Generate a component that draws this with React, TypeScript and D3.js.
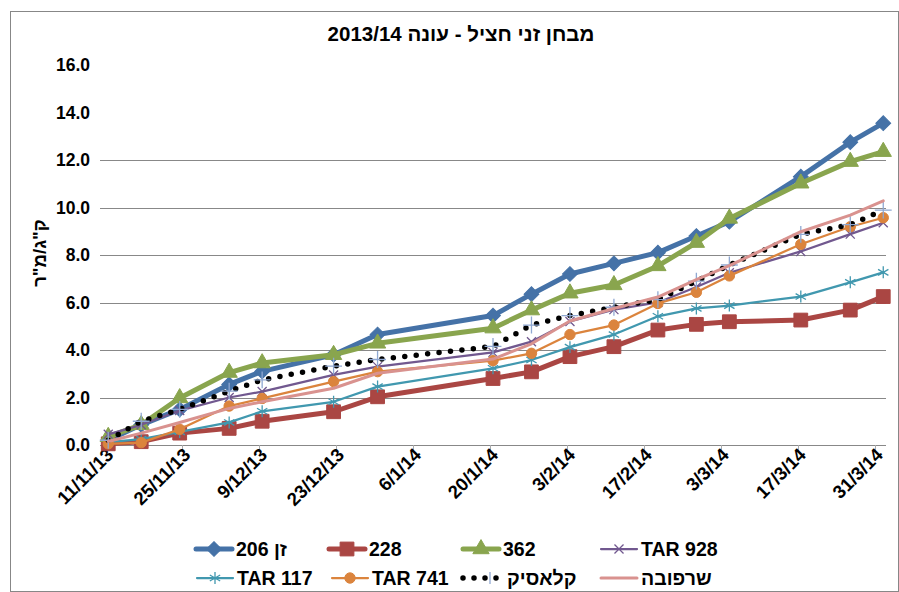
import React from 'react'
import * as d3 from 'd3'

// sampling dates (d/m/yyyy)
const dates = ['2013-11-11', '2013-11-17', '2013-11-24', '2013-12-03', '2013-12-09', '2013-12-22', '2013-12-30',
  '2014-01-20', '2014-01-27', '2014-02-03', '2014-02-11', '2014-02-19', '2014-02-26', '2014-03-04',
  '2014-03-17', '2014-03-26', '2014-04-01']

const zan206 = [0.2, 0.85, 1.5, 2.55, 3.1, 3.8, 4.65, 5.45, 6.35, 7.2, 7.65, 8.1, 8.8, 9.4, 11.3, 12.75, 13.55]
const s228 = [0.05, 0.14, 0.5, 0.7, 1.0, 1.4, 2.03, 2.8, 3.08, 3.72, 4.14, 4.84, 5.08, 5.19, 5.26, 5.68, 6.25]
const s362 = [0.35, 0.85, 1.98, 3.05, 3.45, 3.8, 4.28, 4.92, 5.68, 6.39, 6.74, 7.54, 8.52, 9.54, 11.02, 11.93, 12.35]
const tar928 = [0.45, 0.85, 1.45, 2.0, 2.25, 2.95, 3.3, 3.9, 4.35, 5.2, 5.7, 6.0, 6.65, 7.25, 8.15, 8.88, 9.36]
const tar117 = [0.12, 0.25, 0.55, 0.95, 1.42, 1.82, 2.46, 3.23, 3.58, 4.12, 4.65, 5.42, 5.75, 5.87, 6.25, 6.85, 7.27]
const tar741 = [0.05, 0.1, 0.66, 1.64, 1.96, 2.67, 3.09, 3.55, 3.86, 4.65, 5.05, 5.96, 6.43, 7.12, 8.45, 9.19, 9.57]
const klasik = [0.2, 1.0, 1.5, 2.27, 2.74, 3.32, 3.6, 4.15, 5.05, 5.45, 5.8, 6.12, 6.9, 7.58, 8.87, 9.28, 9.89]
const sharpova = [0.15, 0.5, 0.95, 1.54, 1.82, 2.39, 3.02, 3.62, 4.26, 5.22, 5.75, 6.23, 6.96, 7.55, 8.98, 9.68, 10.28]

const xTickLabels = ['11/11/13', '25/11/13', '9/12/13', '23/12/13', '6/1/14', '20/1/14', '3/2/14', '17/2/14', '3/3/14', '17/3/14', '31/3/14']
const yTicks = [0, 2, 4, 6, 8, 10, 12, 14, 16]
const gridTicks = [2, 4, 6, 8, 10, 12]

const title = 'מבחן זני חציל - עונה 2013/14'
const yTitle = 'ק"ג/מ"ר'

const FONT = '"Liberation Sans", Arial, sans-serif'

type Marker = 'diamond' | 'square' | 'triangle' | 'times' | 'asterisk' | 'circle' | 'plus' | 'none'

interface Series {
  name: string
  values: number[]
  color: string
  width: number
  marker: Marker
  markerColor?: string
  dotted?: boolean
}

const series: Series[] = [
  { name: '206 זן', values: zan206, color: '#4572A7', width: 5, marker: 'diamond' },
  { name: '228', values: s228, color: '#AA4643', width: 5, marker: 'square' },
  { name: '362', values: s362, color: '#89A54E', width: 5, marker: 'triangle' },
  { name: 'TAR  928', values: tar928, color: '#71588F', width: 2.25, marker: 'times' },
  { name: 'TAR 117', values: tar117, color: '#4198AF', width: 2.25, marker: 'asterisk' },
  { name: 'TAR 741', values: tar741, color: '#DB843D', width: 2.25, marker: 'circle' },
  { name: 'קלאסיק', values: klasik, color: '#000000', width: 5.5, marker: 'plus', markerColor: '#8FA8D2', dotted: true },
  { name: 'שרפובה', values: sharpova, color: '#D9928F', width: 3, marker: 'none' }
]

const legendPos = [
  [196, 549], [329, 549], [463, 549], [601, 549],
  [197, 578], [332, 578], [463, 578], [601, 578]
]

const parse = d3.timeParse('%Y-%m-%d')
const parseTick = d3.timeParse('%d/%m/%y')

const x = d3.scaleTime()
  .domain([new Date(2013, 10, 10), new Date(2014, 3, 2)])
  .range([100, 886])
const y = d3.scaleLinear().domain([0, 16]).range([445, 65])

const pointDate = (s: string) => d3.timeHour.offset(parse(s) as Date, 12)

const symbolPath = (m: Marker): string | null => {
  switch (m) {
    case 'diamond': return d3.symbol(d3.symbolSquare, 110)()
    case 'square': return d3.symbol(d3.symbolSquare, 190)()
    case 'triangle': return d3.symbol(d3.symbolTriangle, 115)()
    case 'times': return d3.symbol(d3.symbolTimes, 55)()
    case 'asterisk': return d3.symbol(d3.symbolAsterisk, 100)()
    case 'circle': return d3.symbol(d3.symbolCircle, 85)()
    case 'plus': return d3.symbol(d3.symbolPlus, 95)()
    default: return null
  }
}

const isStroke = (m: Marker) => m === 'times' || m === 'asterisk' || m === 'plus'

const MarkerShape = ({ s, cx, cy }: { s: Series, cx: number, cy: number }) => {
  const d = symbolPath(s.marker)
  if (!d) return null
  const c = s.markerColor ?? s.color
  const rot = s.marker === 'diamond' ? ' rotate(45)' : ''
  return isStroke(s.marker)
    ? <path d={d} transform={`translate(${cx},${cy})${rot}`} fill="none" stroke={c} strokeWidth={1.3} />
    : <path d={d} transform={`translate(${cx},${cy})${rot}`} fill={c} stroke={c} strokeWidth={1} />
}

const App = () => {
  const line = d3.line<number>()
    .x((_, i) => x(pointDate(dates[i])))
    .y(v => y(v))

  return (
    <div style={{ position: 'absolute', left: 0, top: 0 }}>
      <svg width={899} height={592} style={{ display: 'block', fontFamily: FONT }}>
        <rect x={0} y={0} width={899} height={592} fill="#fff" />
        <rect x={10.5} y={11.5} width={888} height={580} fill="none" stroke="#878787" />

        <text x={461} y={41} textAnchor="middle" direction="rtl" fontSize={20.5} fontWeight="bold">{title}</text>

        {gridTicks.map(t => (
          <line key={t} x1={100} x2={886} y1={Math.round(y(t)) + 0.5} y2={Math.round(y(t)) + 0.5} stroke="#888" />
        ))}
        <line x1={100} x2={886} y1={445.5} y2={445.5} stroke="#888" />
        {xTickLabels.map(t => {
          const tx = Math.round(x(parseTick(t) as Date)) + 0.5
          return <line key={t} x1={tx} x2={tx} y1={445} y2={451} stroke="#aaa" />
        })}

        {yTicks.map(t => (
          <text key={t} x={90} y={y(t)} dy="0.36em" textAnchor="end" fontSize={17.5} fontWeight="bold">{t.toFixed(1)}</text>
        ))}
        <text transform={`translate(46,253) rotate(-90)`} textAnchor="middle" direction="rtl" fontSize={18.5} fontWeight="bold">{yTitle}</text>

        {xTickLabels.map(t => {
          const tx = x(parseTick(t) as Date)
          return (
            <text key={t} transform={`translate(${tx + 9},${456}) rotate(-45)`} textAnchor="end" fontSize={18.5} fontWeight="bold">{t}</text>
          )
        })}

        {series.map(s => (
          <g key={s.name}>
            <path d={line(s.values) ?? ''} fill="none" stroke={s.color} strokeWidth={s.width}
              strokeLinejoin="round" strokeLinecap="round"
              strokeDasharray={s.dotted ? '0 11.5' : undefined} />
            {s.values.map((v, i) => (
              <MarkerShape key={i} s={s} cx={x(pointDate(dates[i]))} cy={y(v)} />
            ))}
          </g>
        ))}

        {series.map((s, i) => {
          const [lx, ly] = legendPos[i]
          return (
            <g key={s.name}>
              <line x1={lx} x2={lx + 36} y1={ly} y2={ly} stroke={s.color} strokeWidth={s.width}
                strokeLinecap="round" strokeDasharray={s.dotted ? '0 11' : undefined} />
              {s.marker === 'plus'
                ? <line x1={lx + 27} x2={lx + 27} y1={ly - 6} y2={ly + 6} stroke={s.markerColor} strokeWidth={1.3} />
                : <MarkerShape s={s} cx={lx + 18} cy={ly} />}
              <text x={lx + (s.dotted ? 44 : 40)} y={ly} dy="0.36em" fontSize={19.5} fontWeight="bold">{s.name}</text>
            </g>
          )
        })}
      </svg>
    </div>
  )
}

export default App
